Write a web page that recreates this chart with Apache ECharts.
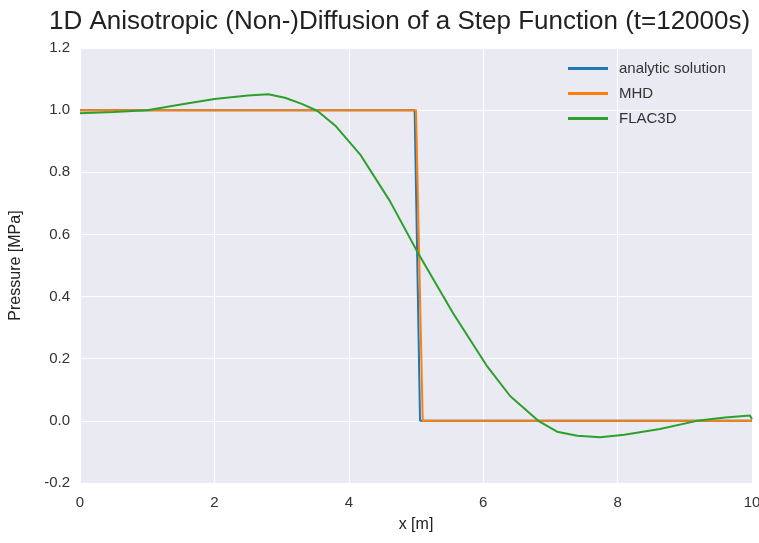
<!DOCTYPE html>
<html>
<head>
<meta charset="utf-8">
<script src="https://cdn.jsdelivr.net/npm/echarts@6/dist/echarts.min.js"></script>
<style>
    html, body { margin: 0; padding: 0; background: #fff; }
    #chart { width: 759px; height: 543px; }
</style>
</head>
<body>
<div id="chart"></div>
<script>
// values
const analyticX = [0, 4.98, 5.06, 10];
const analyticY = [1, 1, 0, 0];

const mhdX = [0, 5.0, 5.1, 10];
const mhdY = [1, 1, 0, 0];

const flacX = [0, 0.5, 1.0, 1.5, 2.0, 2.5, 2.8, 3.05, 3.3, 3.53, 3.8, 4.17, 4.61, 5.03, 5.55, 6.06, 6.4, 6.82, 7.1, 7.4, 7.74, 8.1, 8.63, 9.18, 9.6, 9.97, 10];
const flacY = [0.99, 0.994, 1.0, 1.018, 1.036, 1.047, 1.051, 1.04, 1.02, 0.998, 0.95, 0.857, 0.708, 0.54, 0.347, 0.175, 0.08, 0.0, -0.035, -0.048, -0.053, -0.045, -0.026, 0.0, 0.011, 0.017, 0.005];

const xTicks = [0, 2, 4, 6, 8, 10];
const yTicks = [-0.2, 0.0, 0.2, 0.4, 0.6, 0.8, 1.0, 1.2];

const seriesNames = ['analytic solution', 'MHD', 'FLAC3D'];
const seriesColors = ['#1f77b4', '#ff7f0e', '#2ca02c'];

function pairs (xs, ys) {
    return xs.map(function (x, i) { return [x, ys[i]]; });
}

const chart = echarts.init(document.getElementById('chart'));

const font = "'Liberation Sans', Arial, sans-serif";

chart.setOption({
    backgroundColor: '#fff',
    animation: false,
    textStyle: { fontFamily: font },
    title: {
        text: '1D Anisotropic (Non-)Diffusion of a Step Function (t=12000s)',
        left: 44,
        top: 4,
        textStyle: {
            fontFamily: font,
            fontSize: 26,
            fontWeight: 'normal',
            color: '#222'
        }
    },
    grid: {
        left: 80,
        right: 7,
        top: 48,
        bottom: 60,
        show: true,
        outerBoundsMode: 'none',
        containLabel: false,
        backgroundColor: '#eaeaf2',
        borderWidth: 0
    },
    legend: {
        orient: 'vertical',
        left: 563,
        top: 56,
        itemWidth: 40,
        itemHeight: 3,
        itemGap: 10,
        icon: 'rect',
        data: seriesNames,
        textStyle: {
            fontFamily: font,
            fontSize: 15,
            color: '#333',
            padding: [0, 0, 0, 6]
        }
    },
    xAxis: {
        type: 'value',
        min: xTicks[0],
        max: xTicks[xTicks.length - 1],
        interval: 2,
        name: 'x [m]',
        nameLocation: 'middle',
        nameGap: 34,
        nameTextStyle: { fontSize: 16, color: '#222' },
        axisLine: { show: false },
        axisTick: { show: false },
        axisLabel: {
            fontSize: 15,
            color: '#333',
            margin: 12
        },
        splitLine: {
            lineStyle: { color: '#ffffff', width: 1 }
        }
    },
    yAxis: {
        type: 'value',
        min: yTicks[0],
        max: yTicks[yTicks.length - 1],
        interval: 0.2,
        name: 'Pressure [MPa]',
        nameLocation: 'middle',
        nameGap: 56,
        nameTextStyle: { fontSize: 16, color: '#222' },
        axisLine: { show: false },
        axisTick: { show: false },
        axisLabel: {
            fontSize: 15,
            color: '#333',
            margin: 10,
            formatter: function (v) { return v.toFixed(1); }
        },
        splitLine: {
            lineStyle: { color: '#ffffff', width: 1 }
        }
    },
    series: [{
        name: seriesNames[0],
        type: 'line',
        showSymbol: false,
        color: seriesColors[0],
        lineStyle: { width: 2 },
        data: pairs(analyticX, analyticY)
    }, {
        name: seriesNames[1],
        type: 'line',
        showSymbol: false,
        color: seriesColors[1],
        lineStyle: { width: 2 },
        data: pairs(mhdX, mhdY)
    }, {
        name: seriesNames[2],
        type: 'line',
        showSymbol: false,
        color: seriesColors[2],
        lineStyle: { width: 2 },
        data: pairs(flacX, flacY)
    }]
});
</script>
</body>
</html>
